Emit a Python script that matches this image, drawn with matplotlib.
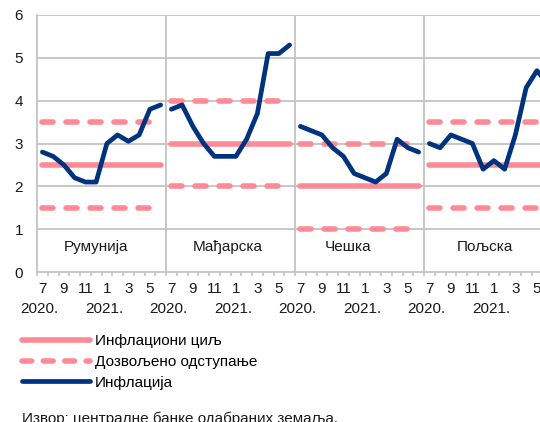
import matplotlib
matplotlib.use("Agg")
import matplotlib.pyplot as plt
from matplotlib.lines import Line2D
import numpy as np

plt.rcParams['font.family'] = ['Liberation Sans', 'DejaVu Sans']

countries = ['Румунија', 'Мађарска', 'Чешка', 'Пољска']
month_labels = ['7', '9', '11', '1', '3', '5']
year_labels = ['2020.', '2021.']
targets = [2.5, 3.0, 2.0, 2.5]
upper_band = [3.5, 4.0, 3.0, 3.5]
lower_band = [1.5, 2.0, 1.0, 1.5]
infl_romania = [2.8, 2.7, 2.5, 2.2, 2.1, 2.1, 3.0, 3.2, 3.05, 3.2, 3.8, 3.9]
infl_hungary = [3.8, 3.9, 3.4, 3.0, 2.7, 2.7, 2.7, 3.1, 3.7, 5.1, 5.1, 5.3]
infl_czech = [3.4, 3.3, 3.2, 2.9, 2.7, 2.3, 2.2, 2.1, 2.3, 3.1, 2.9, 2.8]
infl_poland = [3.0, 2.9, 3.2, 3.1, 3.0, 2.4, 2.6, 2.4, 3.2, 4.3, 4.7, 4.4]
inflation = [infl_romania, infl_hungary, infl_czech, infl_poland]
label_offsets = [5.0, 5.27, 4.43, 5.17]

PINK = '#FF8A96'
BLUE = '#00337F'
GRID = '#C4C4C4'
FS = 11

fig = plt.figure(figsize=(5.4, 4.22), dpi=100)
ax = fig.add_axes([37/540, 150/422, 516/540, 257/422])

n = 12
for g in range(4):
    x = np.arange(n) + g * n
    ax.plot(x, [targets[g]] * n, color=PINK, lw=4, solid_capstyle='round', zorder=3)
    for band in (upper_band, lower_band):
        ax.plot(x, [band[g]] * n, color=PINK, lw=4, dashes=(1.98, 2.34),
                dash_capstyle='round', zorder=3)
    ax.plot(x, inflation[g], color=BLUE, lw=3.4, solid_joinstyle='round',
            solid_capstyle='round', zorder=4)
    ax.text(g * n + label_offsets[g], 0.58, countries[g], ha='center', va='center',
            fontsize=FS, color='#1a1a1a', zorder=5)

ax.set_xlim(-0.5, 4 * n - 0.5)
ax.set_ylim(0, 6)

# gridlines
for yv in range(1, 7):
    ax.axhline(yv, color=GRID, lw=1.3, zorder=1)
for g in range(1, 4):
    ax.axvline(g * n - 0.5, color=GRID, lw=1.3, zorder=1)

for s in ['top', 'right']:
    ax.spines[s].set_visible(False)
for s in ['left', 'bottom']:
    ax.spines[s].set_color(GRID)
    ax.spines[s].set_linewidth(1.3)

ax.set_yticks(range(0, 7))
ax.tick_params(axis='y', length=0, pad=10, labelsize=FS, labelcolor='#1a1a1a')

major = [g * n + k for g in range(4) for k in range(0, 12, 2)]
ax.set_xticks(major)
ax.set_xticklabels(month_labels * 4)
ax.set_xticks(np.arange(-0.5, 4 * n), minor=True)
ax.tick_params(axis='x', which='major', length=0, pad=7.5, labelsize=FS, labelcolor='#1a1a1a')
ax.tick_params(axis='x', which='minor', length=3, width=1.2, color=GRID)

for g in range(4):
    for k, yl in enumerate(year_labels):
        ax.text(g * n + k * 6 - 0.25, -0.145, yl, transform=ax.get_xaxis_transform(),
                ha='center', va='center', fontsize=FS, color='#1a1a1a')

handles = [
    Line2D([], [], color=PINK, lw=4, solid_capstyle='round'),
    Line2D([], [], color=PINK, lw=4, dashes=(1.75, 2.1), dash_capstyle='round'),
    Line2D([], [], color=BLUE, lw=3.4, solid_capstyle='round'),
]
labels = ['Инфлациони циљ', 'Дозвољено одступање', 'Инфлација']
fig.legend(handles, labels, loc='upper left', bbox_to_anchor=(22/540, 1 - 334/422),
           frameon=False, fontsize=FS, handlelength=4.45, handletextpad=0.33,
           labelspacing=0.45, borderpad=0, borderaxespad=0)

fig.text(22/540, -1/422, 'Извор: централне банке одабраних земаља.', ha='left',
         va='baseline', fontsize=FS, color='#1a1a1a')

fig.savefig('out.png', dpi=100)
